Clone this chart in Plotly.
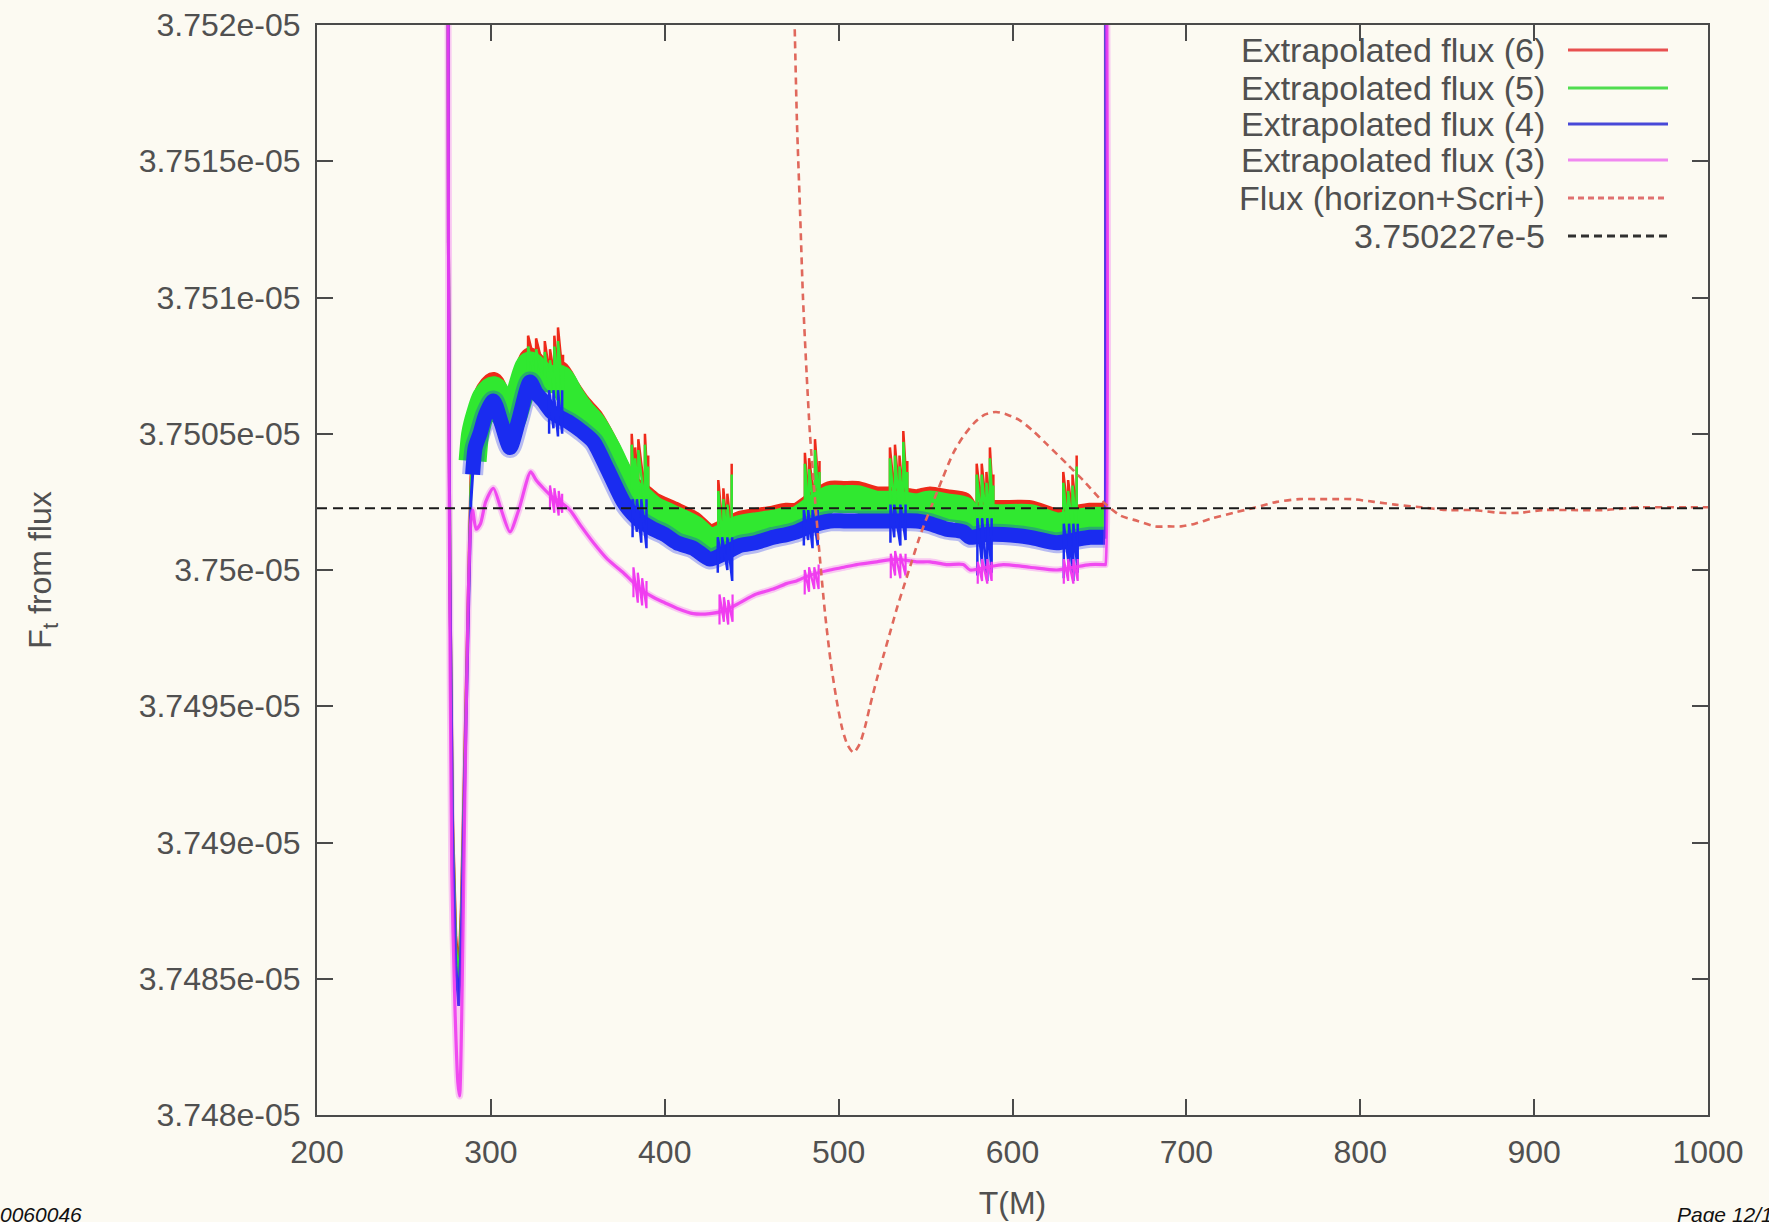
import numpy as np
import plotly.graph_objects as go

FONT = "Liberation Sans, Arial, Helvetica, sans-serif"
S = 1e-5  # all flux values below are written in units of 1e-5

# ---------------- axes ----------------
x_tick_vals = [200, 300, 400, 500, 600, 700, 800, 900, 1000]
y_tick_vals = [3.748, 3.7485, 3.749, 3.7495, 3.75, 3.7505, 3.751, 3.7515, 3.752]
y_tick_text = ["3.748e-05", "3.7485e-05", "3.749e-05", "3.7495e-05", "3.75e-05",
               "3.7505e-05", "3.751e-05", "3.7515e-05", "3.752e-05"]

reference_level = 3.750227

legend_labels = ["Extrapolated flux (6)", "Extrapolated flux (5)", "Extrapolated flux (4)",
                 "Extrapolated flux (3)", "Flux (horizon+Scri+)", "3.750227e-5"]

# ---------------- start transient (shared T for orders 6,5,4) ----------------
dip_T = [275.3, 275.6, 276.4, 278.0, 279.8, 281.5, 283.0, 285.0, 287.0, 288.5]
red_dip_V = [3.75300, 3.75120, 3.75000, 3.74908, 3.74866, 3.74852, 3.74876, 3.74934, 3.74998, 3.75034]
green_dip_V = [3.75300, 3.75120, 3.75000, 3.74905, 3.74862, 3.74848, 3.74872, 3.74930, 3.74995, 3.75030]
blue_dip_V = [3.75300, 3.75120, 3.75000, 3.74900, 3.74855, 3.74840, 3.74865, 3.74925, 3.74990, 3.75025]

# ---------------- noisy band (centre of each noisy curve) ----------------
band_T = [289.5, 291, 293.7, 297, 301.4, 306, 311, 316, 322.5, 326, 330.2, 335, 339.8, 345.5,
          352, 359, 367, 376.2, 381, 385.8, 393.4, 400, 406.9, 416.4, 426, 434, 443.3, 452,
          462.4, 470, 475.8, 483, 495, 503, 510.4, 521.9, 533, 544.9, 552.6, 562, 571.7,
          575.6, 585, 594.7, 610, 625.4, 635, 644.6, 653.3]
red_V = [3.75043, 3.75053, 3.75060, 3.75066, 3.75069, 3.75063, 3.75057, 3.75066, 3.75078, 3.75076,
         3.75074, 3.75073, 3.75073, 3.75067, 3.75061, 3.75056, 3.75047, 3.75035, 3.75031, 3.75029,
         3.75025, 3.75023, 3.75021, 3.75018, 3.75013, 3.75015, 3.75018, 3.75019, 3.75020, 3.75021,
         3.75021, 3.75024, 3.75029, 3.75029, 3.75029, 3.75027, 3.75027, 3.75026, 3.75027, 3.75026,
         3.75025, 3.75021, 3.75022, 3.75022, 3.75022, 3.75019, 3.75020, 3.75021, 3.75021]
green_V = [3.75040, 3.75050, 3.75057, 3.75063, 3.75066, 3.75060, 3.75054, 3.75063, 3.75075, 3.75073,
           3.75071, 3.75070, 3.75070, 3.75064, 3.75058, 3.75053, 3.75044, 3.75032, 3.75028, 3.75026,
           3.75022, 3.75020, 3.75018, 3.75015, 3.75010, 3.75012, 3.75015, 3.75016, 3.75017, 3.75018,
           3.75018, 3.75021, 3.75026, 3.75026, 3.75026, 3.75024, 3.75024, 3.75023, 3.75024, 3.75023,
           3.75022, 3.75018, 3.75019, 3.75019, 3.75019, 3.75016, 3.75017, 3.75018, 3.75018]
blue_V = [3.75035, 3.75045, 3.75050, 3.75057, 3.75062, 3.75054, 3.75045, 3.75055, 3.75069, 3.75065,
          3.75062, 3.75058, 3.75056, 3.75054, 3.75051, 3.75047, 3.75037, 3.75025, 3.75021, 3.75018,
          3.75015, 3.75013, 3.75010, 3.75008, 3.75004, 3.75006, 3.75009, 3.75010, 3.75012, 3.75013,
          3.75014, 3.75016, 3.75018, 3.75018, 3.75018, 3.75018, 3.75018, 3.75018, 3.75017, 3.75015,
          3.75014, 3.75012, 3.75013, 3.75013, 3.75012, 3.75010, 3.75011, 3.75012, 3.75012]

# jump off the top of the plot at the end of the extrapolated data
end_T = [653.5, 653.7]
red_end_V = [3.75021, 3.75300]
green_end_V = [3.75018, 3.75300]
blue_end_V = [3.75012, 3.75300]

# ---------------- order-3 extrapolation (thin curve) ----------------
mag_T = [275.2, 275.5, 276.1, 277.5, 279.4, 281.0, 282.0, 283.2, 285.0, 287.0, 288.5,
         289.5, 291.5, 294, 297, 301.4, 306, 311, 316, 322.9, 326, 330.2, 335, 339.8, 345.5,
         352, 359, 367, 376.2, 381, 385.8, 393.4, 400, 406.9, 416.4, 426, 434, 443.3, 452,
         462.4, 470, 475.8, 483, 495, 503, 510.4, 521.9, 533, 544.9, 552.6, 562, 571.7,
         575.6, 585, 594.7, 610, 625.4, 635, 644.6, 653.3, 653.5, 653.7]
mag_V = [3.75300, 3.75150, 3.75020, 3.74890, 3.74838, 3.74812, 3.74807, 3.74835, 3.74915, 3.74990, 3.75018,
         3.75022, 3.75015, 3.75017, 3.75025, 3.75030, 3.75022, 3.75014, 3.75022, 3.75036, 3.75033,
         3.75030, 3.75027, 3.75025, 3.75022, 3.75016, 3.75010, 3.75004, 3.74999, 3.74996, 3.74993,
         3.74990, 3.74988, 3.74986, 3.74984, 3.74984, 3.74985, 3.74988, 3.74991, 3.74993, 3.74995,
         3.74996, 3.74998, 3.75000, 3.75001, 3.75002, 3.75003, 3.75004, 3.75003, 3.75003, 3.75002,
         3.75002, 3.75000, 3.75001, 3.75002, 3.75001, 3.75000, 3.75001, 3.75002, 3.75002, 3.75002, 3.75300]

# ---------------- glitch spikes (T, low end, high end) ----------------
red_spk_T = [321.4, 326.0, 331.0, 334.0, 336.5, 338.6, 341.5, 381.0, 383.0, 384.8, 388.6, 390.5,
             430.8, 433.7, 436.0, 438.5, 480.6, 483.0, 486.4, 489.0, 529.5, 532.4, 535.0, 537.2,
             539.5, 579.4, 582.3, 585.0, 587.0, 589.0, 629.2, 632.0, 634.5, 636.9]
red_spk_lo = [3.75075, 3.75074, 3.75072, 3.75071, 3.75071, 3.75071, 3.75070, 3.75030, 3.75029, 3.75029,
              3.75028, 3.75027, 3.75012, 3.75012, 3.75013, 3.75013, 3.75021, 3.75022, 3.75024, 3.75025,
              3.75026, 3.75026, 3.75026, 3.75026, 3.75026, 3.75022, 3.75022, 3.75022, 3.75022, 3.75022,
              3.75020, 3.75020, 3.75020, 3.75020]
red_spk_hi = [3.75086, 3.75085, 3.75084, 3.75081, 3.75086, 3.75089, 3.75079, 3.75050, 3.75045, 3.75048,
              3.75050, 3.75042, 3.75033, 3.75030, 3.75028, 3.75039, 3.75043, 3.75041, 3.75048, 3.75040,
              3.75045, 3.75046, 3.75042, 3.75051, 3.75040, 3.75039, 3.75039, 3.75036, 3.75045, 3.75035,
              3.75036, 3.75033, 3.75035, 3.75042]
green_spk_T = red_spk_T
green_spk_lo = [3.75070, 3.75069, 3.75067, 3.75066, 3.75066, 3.75066, 3.75065, 3.75025, 3.75024, 3.75024,
                3.75023, 3.75022, 3.75007, 3.75007, 3.75008, 3.75008, 3.75016, 3.75017, 3.75019, 3.75020,
                3.75021, 3.75021, 3.75021, 3.75021, 3.75021, 3.75017, 3.75017, 3.75017, 3.75017, 3.75017,
                3.75015, 3.75015, 3.75015, 3.75015]
green_spk_hi = [3.75082, 3.75081, 3.75080, 3.75077, 3.75082, 3.75084, 3.75075, 3.75046, 3.75041, 3.75044,
                3.75046, 3.75038, 3.75029, 3.75026, 3.75024, 3.75035, 3.75039, 3.75037, 3.75044, 3.75036,
                3.75041, 3.75042, 3.75038, 3.75047, 3.75036, 3.75035, 3.75035, 3.75032, 3.75041, 3.75031,
                3.75032, 3.75029, 3.75031, 3.75038]
blue_spk_T = [333.5, 336.0, 338.6, 341.0, 381.5, 384.0, 386.5, 389.5, 430.5, 433.0, 436.0, 438.8,
              480.0, 482.5, 485.0, 488.0, 529.8, 532.0, 535.5, 538.5, 579.8, 582.5, 585.5, 588.0,
              629.5, 632.5, 635.0, 637.5]
blue_spk_lo = [3.75050, 3.75052, 3.75049, 3.75050, 3.75012, 3.75014, 3.75010, 3.75008, 3.74999, 3.75003,
               3.75000, 3.74996, 3.75009, 3.75011, 3.75008, 3.75009, 3.75010, 3.75012, 3.75009, 3.75011,
               3.74998, 3.75002, 3.74996, 3.74999, 3.74997, 3.75001, 3.74996, 3.74999]
blue_spk_hi = [3.75066, 3.75066, 3.75066, 3.75066, 3.75026, 3.75026, 3.75026, 3.75026, 3.75012, 3.75012,
               3.75012, 3.75012, 3.75022, 3.75022, 3.75022, 3.75022, 3.75024, 3.75024, 3.75024, 3.75024,
               3.75019, 3.75019, 3.75019, 3.75019, 3.75017, 3.75017, 3.75017, 3.75017]
mag_spk_T = [334.0, 336.5, 339.0, 341.0, 382.0, 384.5, 387.0, 389.5, 431.5, 434.0, 436.5, 439.0,
             480.5, 483.0, 486.0, 488.5, 530.0, 532.5, 535.5, 538.5, 580.0, 582.5, 585.5, 588.0,
             629.5, 632.0, 635.0, 637.5]
mag_spk_lo = [3.75022, 3.75021, 3.75020, 3.75021, 3.74990, 3.74988, 3.74987, 3.74986, 3.74980, 3.74981,
              3.74980, 3.74981, 3.74991, 3.74992, 3.74993, 3.74993, 3.74997, 3.74998, 3.74997, 3.74998,
              3.74995, 3.74996, 3.74995, 3.74996, 3.74995, 3.74996, 3.74995, 3.74996]
mag_spk_hi = [3.75031, 3.75030, 3.75029, 3.75028, 3.75001, 3.74999, 3.74997, 3.74996, 3.74991, 3.74990,
              3.74989, 3.74991, 3.75000, 3.75001, 3.75001, 3.75002, 3.75006, 3.75007, 3.75006, 3.75006,
              3.75003, 3.75004, 3.75004, 3.75003, 3.75004, 3.75004, 3.75004, 3.75004]

# ---------------- horizon + Scri+ flux (dashed) ----------------
flux_T = [472.0, 474.5, 476.0, 477.8, 479.5, 481.6, 483.5, 486.4, 489.0, 492.2, 495.5, 498.9, 502.0,
          505.0, 508.5, 512.0, 515.0, 518.0, 522.0, 526.0, 530.0, 534.0, 538.0, 542.0, 546.0, 550.0,
          554.4, 560.0, 566.0, 571.7, 578.0, 584.0, 590.5, 597.0, 604.0, 611.9, 620.0, 631.2, 642.0,
          652.1, 662.0, 672.0, 682.0, 690.0, 697.0, 705.0, 715.0, 727.0, 740.0, 752.0, 765.0, 777.0,
          785.0, 795.0, 808.0, 820.0, 835.0, 850.0, 865.0, 880.0, 892.0, 905.0, 920.0, 940.0, 960.0,
          980.0, 1000.0]
flux_V = [3.75260, 3.75205, 3.75165, 3.75132, 3.75100, 3.75072, 3.75050, 3.75026, 3.75006, 3.74984,
          3.74966, 3.74952, 3.74942, 3.74936, 3.74933, 3.74936, 3.74942, 3.74950, 3.74960, 3.74969,
          3.74978, 3.74987, 3.74995, 3.75003, 3.75011, 3.75018, 3.75025, 3.75034, 3.75043, 3.75049,
          3.75054, 3.75057, 3.75058, 3.75057, 3.75055, 3.75051, 3.75046, 3.75039, 3.75032, 3.75025,
          3.75020, 3.75018, 3.75016, 3.75016, 3.75016, 3.75017, 3.75019, 3.75021, 3.75023, 3.75025,
          3.75026, 3.75026, 3.75026, 3.75026, 3.75025, 3.75024, 3.75023, 3.75022, 3.75022, 3.75021,
          3.75021, 3.75022, 3.75022, 3.75022, 3.75023, 3.75023, 3.75023]

# ---------------- colours ----------------
C_RED, C_GREEN, C_BLUE, C_MAG = "#ee2a1a", "#30e830", "#1a2cf0", "#f03cf0"
C_FLUX, C_REF = "#e0685c", "#1a1a1a"
LEG_COLORS = ["#e85050", "#50dd50", "#4848d8", "#f088f0", "#e07070", "#303030"]
LEG_DASH = ["solid", "solid", "solid", "solid", "6px,4px", "8px,5px"]
BG = "#fcfaf2"


def ys(v):
    return np.asarray(v, dtype=float) * S


def spikes(t, lo, hi):
    """Join neighbouring glitches of one cluster into a zig-zag; break between clusters."""
    xs, yv = [], []
    prev = None
    for a, b, c in zip(t, lo, hi):
        if prev is not None and a - prev > 6:
            xs.append(None)
            yv.append(None)
        xs += [a, a]
        yv += [b * S, c * S]
        prev = a
    return xs, yv


fig = go.Figure()
SPL = dict(shape="spline", smoothing=0.7)


def add_series(dip_v, band_v, end_v, spk, color, wide, halo=None):
    fig.add_trace(go.Scatter(x=dip_T + band_T + end_T, y=ys(dip_v + band_v + end_v), mode="lines",
                             line=dict(color=color, width=3), showlegend=False, hoverinfo="skip"))
    if halo:
        fig.add_trace(go.Scatter(x=band_T, y=ys(band_v), mode="lines", opacity=0.3,
                                 line=dict(color=color, width=wide + halo, **SPL),
                                 showlegend=False, hoverinfo="skip"))
    fig.add_trace(go.Scatter(x=band_T, y=ys(band_v), mode="lines",
                             line=dict(color=color, width=wide, **SPL), showlegend=False, hoverinfo="skip"))
    sx, sy = spikes(*spk)
    fig.add_trace(go.Scatter(x=sx, y=sy, mode="lines", line=dict(color=color, width=2.5),
                             showlegend=False, hoverinfo="skip"))


add_series(red_dip_V, red_V, red_end_V, (red_spk_T, red_spk_lo, red_spk_hi), C_RED, 20)
add_series(green_dip_V, green_V, green_end_V, (green_spk_T, green_spk_lo, green_spk_hi), C_GREEN, 28)
add_series(blue_dip_V, blue_V, blue_end_V, (blue_spk_T, blue_spk_lo, blue_spk_hi), C_BLUE, 15, halo=6)

fig.add_trace(go.Scatter(x=mag_T, y=ys(mag_V), mode="lines", line=dict(color=C_MAG, width=7, **SPL),
                         opacity=0.25, showlegend=False, hoverinfo="skip"))
fig.add_trace(go.Scatter(x=mag_T, y=ys(mag_V), mode="lines", line=dict(color=C_MAG, width=3.2, **SPL),
                         opacity=0.9, showlegend=False, hoverinfo="skip"))
sx, sy = spikes(mag_spk_T, mag_spk_lo, mag_spk_hi)
fig.add_trace(go.Scatter(x=sx, y=sy, mode="lines", line=dict(color=C_MAG, width=2.2),
                         showlegend=False, hoverinfo="skip"))

fig.add_trace(go.Scatter(x=flux_T, y=ys(flux_V), mode="lines",
                         line=dict(color=C_FLUX, width=2.6, dash="7px,5px", **SPL),
                         showlegend=False, hoverinfo="skip"))
fig.add_trace(go.Scatter(x=[x_tick_vals[0], x_tick_vals[-1]], y=ys([reference_level, reference_level]),
                         mode="lines", line=dict(color=C_REF, width=2, dash="10px,6px"),
                         showlegend=False, hoverinfo="skip"))

# ---------------- layout ----------------
W, H = 1769, 1222
L, R, T, B = 317, 61, 25, 107
PW, PH = W - L - R, H - T - B


def px_x(px):
    return (px - L) / PW


def px_y(py):
    return (H - B - py) / PH


axis_common = dict(showline=True, linecolor="#4a4a4a", linewidth=2, mirror="ticks",
                   ticks="inside", ticklen=16, tickwidth=2, tickcolor="#4a4a4a",
                   showgrid=False, zeroline=False,
                   tickfont=dict(family=FONT, size=32, color="#505050"))

fig.update_layout(
    width=W, height=H,
    margin=dict(l=L, r=R, t=T, b=B, autoexpand=False),
    paper_bgcolor=BG, plot_bgcolor=BG,
    showlegend=False,
    font=dict(family=FONT, color="#505050"),
    xaxis=dict(range=[200, 1000], tickvals=x_tick_vals, ticklabelstandoff=8,
               title=dict(text="T(M)", font=dict(family=FONT, size=32, color="#505050"), standoff=22),
               **axis_common),
    yaxis=dict(range=[y_tick_vals[0] * S, y_tick_vals[-1] * S],
               tickvals=[v * S for v in y_tick_vals], ticktext=y_tick_text, ticklabelstandoff=8,
               title=dict(text="F<sub>t</sub> from flux", font=dict(family=FONT, size=32, color="#505050"),
                          standoff=77),
               **axis_common),
)

# manual gnuplot-style key (text on the left, sample on the right)
row_y = [50, 88, 124, 160, 198, 236]
annotations = []
shapes = []
for i, lab in enumerate(legend_labels):
    annotations.append(dict(text=lab, x=px_x(1547), y=px_y(row_y[i]), xref="paper", yref="paper",
                            xanchor="right", yanchor="middle", showarrow=False,
                            font=dict(family=FONT, size=34, color="#505050")))
    shapes.append(dict(type="line", xref="paper", yref="paper", x0=px_x(1568), x1=px_x(1668),
                       y0=px_y(row_y[i]), y1=px_y(row_y[i]),
                       line=dict(color=LEG_COLORS[i], width=3, dash=LEG_DASH[i])))

annotations.append(dict(text="<i>0060046</i>", x=px_x(-2), y=px_y(1215), xref="paper", yref="paper",
                        xanchor="left", yanchor="middle", showarrow=False,
                        font=dict(family=FONT, size=21, color="#111111")))
annotations.append(dict(text="<i>Page 12/15</i>", x=px_x(1675), y=px_y(1215), xref="paper", yref="paper",
                        xanchor="left", yanchor="middle", showarrow=False,
                        font=dict(family=FONT, size=21, color="#111111")))

fig.update_layout(annotations=annotations, shapes=shapes)

fig.write_html("out.html")
